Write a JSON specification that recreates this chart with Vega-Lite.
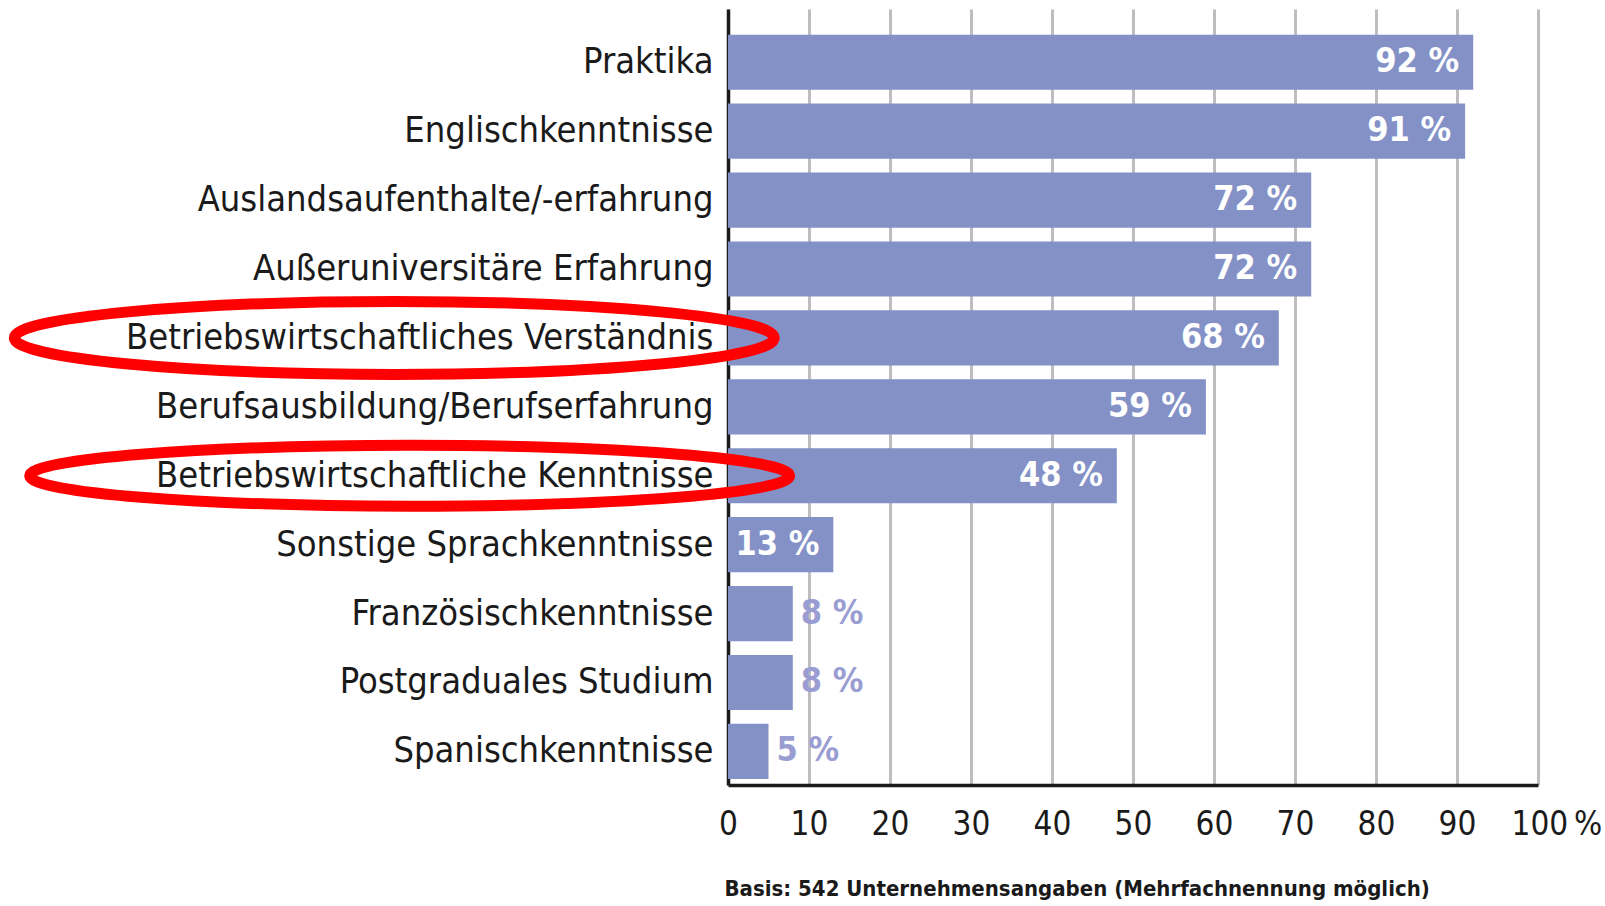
{
  "$schema": "https://vega.github.io/schema/vega-lite/v6.json",
  "autosize": "none",
  "width": 810,
  "height": 776,
  "padding": {"left": 728, "top": 9, "right": 67, "bottom": 121},
  "background": "#ffffff",
  "config": {"view": {"stroke": null}},
  "data": {
    "values": [
      {"kategorie": "Praktika", "wert": 92},
      {"kategorie": "Englischkenntnisse", "wert": 91},
      {"kategorie": "Auslandsaufenthalte/-erfahrung", "wert": 72},
      {"kategorie": "Außeruniversitäre Erfahrung", "wert": 72},
      {"kategorie": "Betriebswirtschaftliches Verständnis", "wert": 68},
      {"kategorie": "Berufsausbildung/Berufserfahrung", "wert": 59},
      {"kategorie": "Betriebswirtschaftliche Kenntnisse", "wert": 48},
      {"kategorie": "Sonstige Sprachkenntnisse", "wert": 13},
      {"kategorie": "Französischkenntnisse", "wert": 8},
      {"kategorie": "Postgraduales Studium", "wert": 8},
      {"kategorie": "Spanischkenntnisse", "wert": 5}
    ]
  },
  "transform": [{"calculate": "datum.wert + ' %'", "as": "beschriftung"}],
  "encoding": {
    "y": {
      "field": "kategorie",
      "type": "nominal",
      "sort": null,
      "scale": {"paddingInner": 0.2, "paddingOuter": 0.23, "align": 0.81},
      "axis": {
        "title": null,
        "ticks": false,
        "tickSize": 0,
        "labelPadding": 15,
        "labelFont": "DejaVu Sans Condensed, sans-serif",
        "labelFontSize": 36,
        "labelColor": "#1a1a1a",
        "labelLimit": 0,
        "domainColor": "#1a1a1a",
        "domainWidth": 3.5,
        "grid": false
      }
    }
  },
  "layer": [
    {
      "mark": {"type": "bar", "color": "#8391c7"},
      "encoding": {
        "x": {
          "field": "wert",
          "type": "quantitative",
          "scale": {"domain": [0, 100], "nice": false},
          "axis": {
            "values": [0, 10, 20, 30, 40, 50, 60, 70, 80, 90, 100],
            "labelExpr": "datum.value == 100 ? '100\u202f%' : datum.label",
            "labelAlign": {"condition": {"test": "datum.value == 100", "value": "left"}, "value": "center"},
            "labelOffset": {"condition": {"test": "datum.value == 100", "value": -27}, "value": 0},
            "labelBaseline": "middle",
            "labelPadding": 39,
            "ticks": false,
            "tickSize": 0,
            "labelFont": "DejaVu Sans Condensed, sans-serif",
            "labelFontSize": 33,
            "labelColor": "#1a1a1a",
            "labelBound": false,
            "labelOverlap": false,
            "domainColor": "#1a1a1a",
            "domainWidth": 3.5,
            "grid": true,
            "gridColor": "#bdbdc2",
            "gridWidth": 3,
            "title": "Basis: 542 Unternehmensangaben (Mehrfachnennung möglich)",
            "titleFont": "DejaVu Sans Condensed, sans-serif",
            "titleFontSize": 22,
            "titleFontWeight": "bold",
            "titleColor": "#1a1a1a",
            "titleAnchor": "start",
            "titleAlign": "left",
            "titleBaseline": "middle",
            "titleX": -4,
            "titleY": 103
          }
        }
      }
    },
    {
      "transform": [{"filter": "datum.wert >= 10"}],
      "mark": {"type": "text", "align": "right", "baseline": "middle", "dx": -14, "color": "#ffffff", "font": "DejaVu Sans Condensed, sans-serif", "fontSize": 34, "fontWeight": "bold"},
      "encoding": {
        "x": {"field": "wert", "type": "quantitative"},
        "text": {"field": "beschriftung"}
      }
    },
    {
      "transform": [{"filter": "datum.wert < 10"}],
      "mark": {"type": "text", "align": "left", "baseline": "middle", "dx": 8, "color": "#9a9dd2", "font": "DejaVu Sans Condensed, sans-serif", "fontSize": 34, "fontWeight": "bold"},
      "encoding": {
        "x": {"field": "wert", "type": "quantitative"},
        "text": {"field": "beschriftung"}
      }
    },
    {
      "transform": [{"filter": "datum.kategorie == 'Betriebswirtschaftliches Verständnis'"}],
      "mark": {"type": "point", "shape": "M -1 0 A 1 0.096 0 1 0 1 0 A 1 0.096 0 1 0 -1 0 Z", "size": 577600, "filled": false, "stroke": "#ff0000", "strokeWidth": 11, "opacity": 1},
      "encoding": {
        "x": {"datum": -41.2, "type": "quantitative"}
      }
    },
    {
      "transform": [{"filter": "datum.kategorie == 'Betriebswirtschaftliche Kenntnisse'"}],
      "mark": {"type": "point", "shape": "M -1 0 A 1 0.08 0 1 0 1 0 A 1 0.08 0 1 0 -1 0 Z", "size": 577600, "filled": false, "stroke": "#ff0000", "strokeWidth": 11, "opacity": 1},
      "encoding": {
        "x": {"datum": -39.3, "type": "quantitative"}
      }
    }
  ]
}
